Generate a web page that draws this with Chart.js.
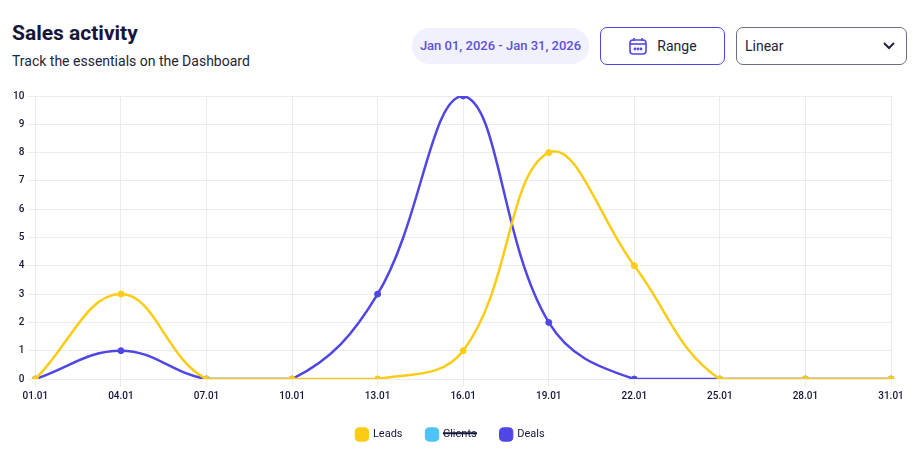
<!DOCTYPE html>
<html>
<head>
<meta charset="utf-8">
<script src="https://cdn.jsdelivr.net/npm/chart.js@4"></script>
<style>
  body { margin: 0; background: #fff; font-family: Roboto, sans-serif; width: 923px; height: 464px; position: relative; overflow: hidden; }
  h1 { position: absolute; left: 12px; top: 21px; margin: 0; font-size: 21px; font-weight: 700; color: #14163a; }
  .sub { position: absolute; left: 12px; top: 53px; font-size: 14px; color: #22243a; }
  .pill { position: absolute; left: 412px; top: 28px; width: 177px; height: 36px; border-radius: 18px; background: #f1f0fd; color: #5a52d8; font-size: 13px; font-weight: 500; line-height: 36px; text-align: center; }
  .btn { position: absolute; left: 600px; top: 27px; width: 123px; height: 36px; border: 1px solid #4f46e5; border-radius: 7px; box-sizing: content-box; font-size: 14px; color: #22243a; display: flex; align-items: center; justify-content: center; gap: 9px; }
  .sel { position: absolute; left: 736px; top: 27px; width: 171px; height: 36px; border: 1px solid #6b6f85; border-radius: 7px; font-size: 14px; color: #22243a; line-height: 36px; padding-left: 8px; box-sizing: border-box; height: 38px; }
  .sel svg { position: absolute; right: 10px; top: 13px; }
  #wrap { position: absolute; left: 0; top: 87px; width: 923px; height: 363px; }
</style>
</head>
<body>
<h1>Sales activity</h1>
<div class="sub">Track the essentials on the Dashboard</div>
<div class="pill">Jan 01, 2026 - Jan 31, 2026</div>
<div class="btn">
  <svg width="20" height="20" viewBox="0 0 20 20" fill="none" stroke="#4f46e5" stroke-width="1.6"><rect x="2" y="4" width="16" height="14" rx="3"/><line x1="2" y1="8" x2="18" y2="8"/><line x1="6" y1="2" x2="6" y2="5"/><line x1="14" y1="2" x2="14" y2="5"/><circle cx="7" cy="13" r="0.6"/><circle cx="10" cy="13" r="0.6"/><circle cx="13" cy="13" r="0.6"/></svg>
  <span>Range</span>
</div>
<div class="sel">Linear
  <svg width="14" height="10" viewBox="0 0 14 10" fill="none" stroke="#22243a" stroke-width="2"><polyline points="2,2 7,7 12,2"/></svg>
</div>
<div id="wrap"><canvas id="c"></canvas></div>
<script>
var labels = ["01.01", "04.01", "07.01", "10.01", "13.01", "16.01", "19.01", "22.01", "25.01", "28.01", "31.01"];
var leads = [0, 3, 0, 0, 0, 1, 8, 4, 0, 0, 0];
var clients = [0, 2, 1, 0, 1, 2, 3, 1, 0, 0, 0];
var deals = [0, 1, 0, 0, 3, 10, 2, 0, 0, 0, 0];

new Chart(document.getElementById("c"), {
  type: "line",
  data: {
    labels: labels,
    datasets: [
      { label: "Leads", data: leads, borderColor: "#facc15", backgroundColor: "#facc15" },
      { label: "Clients", data: clients, borderColor: "#4fc3f7", backgroundColor: "#4fc3f7", hidden: true },
      { label: "Deals", data: deals, borderColor: "#4f46e5", backgroundColor: "#4f46e5" }
    ]
  },
  options: {
    responsive: true,
    maintainAspectRatio: false,
    animation: false,
    layout: { padding: { left: 10, right: 32 } },
    elements: {
      line: { tension: 0.4, borderWidth: 2.5 },
      point: { radius: 3, hoverRadius: 4 }
    },
    scales: {
      x: {
        grid: { color: "#ececec" },
        border: { color: "#ececec" },
        ticks: { color: "#14163a", font: { family: "Roboto", size: 10, weight: 500 } }
      },
      y: {
        min: 0, max: 10,
        grid: { color: "#ececec" },
        border: { display: false },
        ticks: { stepSize: 1, color: "#14163a", font: { family: "Roboto", size: 10, weight: 500 } }
      }
    },
    plugins: {
      legend: {
        position: "bottom",
        labels: { usePointStyle: true, pointStyle: "rectRounded", boxWidth: 14, boxHeight: 14, padding: 24, color: "#14163a", font: { family: "Roboto", size: 11 } }
      }
    }
  }
});
</script>
</body>
</html>
